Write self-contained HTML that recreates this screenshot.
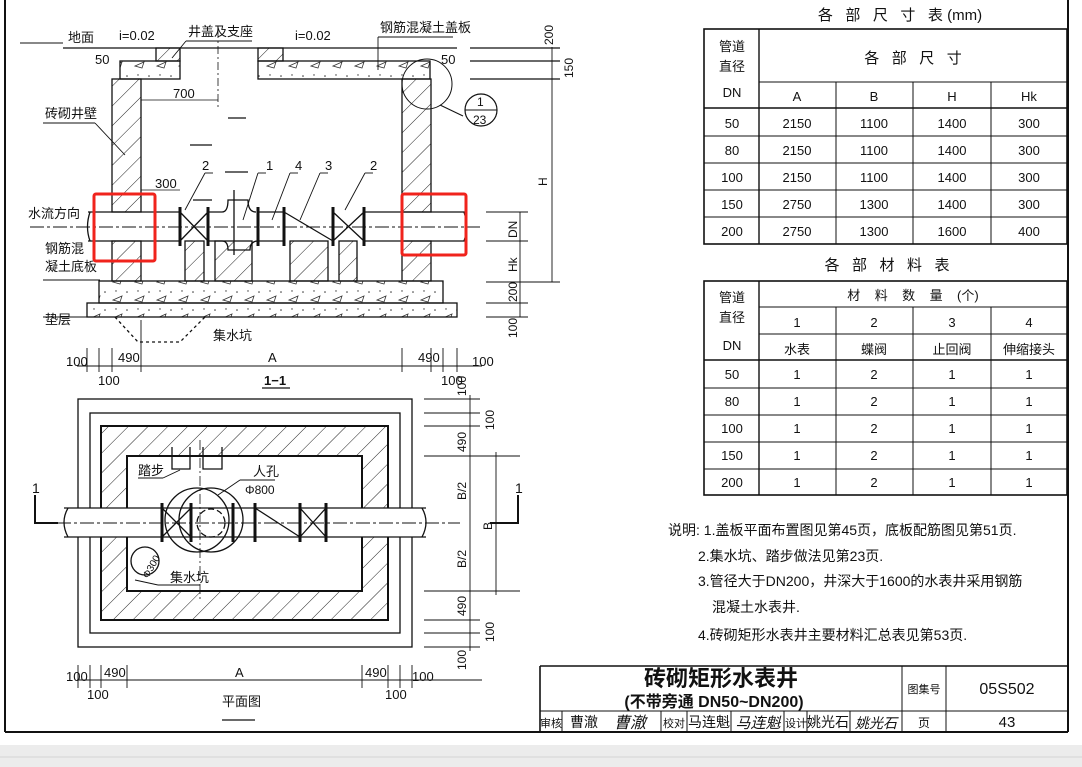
<!DOCTYPE html>
<html><head><meta charset="utf-8"><style>
body{margin:0;background:#fff}
svg{display:block}
text{font-family:"Liberation Sans","Noto Sans CJK SC",sans-serif;fill:#111}
</style></head><body>
<svg width="1082" height="767" viewBox="0 0 1082 767" xmlns="http://www.w3.org/2000/svg">
<defs>
<pattern id="h" width="14" height="14" patternUnits="userSpaceOnUse" patternTransform="rotate(45)">
<line x1="0" y1="0" x2="0" y2="14" stroke="#222" stroke-width="1"/></pattern>
<pattern id="c" width="22" height="18" patternUnits="userSpaceOnUse">
<path d="M3 12 L12 8 L10 14 Z" fill="none" stroke="#333" stroke-width="0.8"/><circle cx="17" cy="4" r="0.8" fill="#333"/><circle cx="6" cy="3" r="0.7" fill="#333"/></pattern>
</defs>
<rect width="1082" height="767" fill="#fff"/>
<rect x="0" y="745" width="1082" height="22" fill="#ececec"/>
<line x1="0" y1="757" x2="1082" y2="757" stroke="#d4d4d4"/>
<g stroke="#111" fill="none">
<line x1="5" y1="0" x2="5" y2="732" stroke-width="2"/>
<line x1="5" y1="732" x2="1068" y2="732" stroke-width="2"/>
<line x1="1068" y1="0" x2="1068" y2="732" stroke-width="2"/>
</g>

<!-- Section 1-1 -->
<g stroke="#111" stroke-width="1.3" fill="none">
<line x1="63" y1="48" x2="457" y2="48"/>
<line x1="470" y1="48" x2="560" y2="48"/><line x1="470" y1="61" x2="560" y2="61"/><line x1="470" y1="79" x2="560" y2="79"/>
<rect x="120" y="61" width="60" height="18" fill="url(#c)"/>
<rect x="258" y="61" width="172" height="18" fill="url(#c)"/>
<rect x="156" y="48" width="24" height="13" fill="url(#h)"/>
<rect x="258" y="48" width="25" height="13" fill="url(#h)"/>
<rect x="112" y="79" width="29" height="133" fill="url(#h)"/>
<rect x="112" y="241" width="29" height="40" fill="url(#h)"/>
<rect x="402" y="79" width="29" height="133" fill="url(#h)"/>
<rect x="402" y="241" width="29" height="40" fill="url(#h)"/>
<rect x="99" y="281" width="344" height="22" fill="url(#c)"/>
<rect x="87" y="303" width="370" height="14" fill="url(#c)"/>
<path d="M115 317 L138 342 L180 342 L205 317" stroke-dasharray="3 3"/>
<rect x="185" y="241" width="19" height="40" fill="url(#h)"/>
<rect x="215" y="241" width="37" height="40" fill="url(#h)"/>
<rect x="290" y="241" width="38" height="40" fill="url(#h)"/>
<rect x="339" y="241" width="18" height="40" fill="url(#h)"/>
<line x1="88" y1="212" x2="180" y2="212"/><line x1="88" y1="241" x2="180" y2="241"/>
<line x1="364" y1="212" x2="466" y2="212"/><line x1="364" y1="241" x2="466" y2="241"/>
<path d="M90 212 Q85 227 90 241 M464 212 Q469 227 464 241"/>
<path d="M180 212 L208 241 M180 241 L208 212"/>
<path d="M333 212 L364 241 M333 241 L364 212"/>
<path d="M208 212 L222 212 Q228 212 228 200 L248 200 Q248 212 256 212 M208 241 L222 241 Q228 241 228 250 L250 250 Q250 241 258 241"/>
<path d="M258 212 L284 212 M258 241 L284 241 M284 212 L333 241"/>
<g stroke-width="3"><line x1="180" y1="207" x2="180" y2="246"/><line x1="208" y1="207" x2="208" y2="246"/><line x1="258" y1="207" x2="258" y2="246"/><line x1="284" y1="207" x2="284" y2="246"/><line x1="333" y1="207" x2="333" y2="246"/><line x1="364" y1="207" x2="364" y2="246"/></g>
<line x1="234" y1="190" x2="234" y2="255"/>
<line x1="228" y1="118" x2="246" y2="118"/><line x1="190" y1="145" x2="212" y2="145"/><line x1="225" y1="172" x2="248" y2="172"/><line x1="193" y1="200" x2="212" y2="200"/>
<line x1="30" y1="227" x2="480" y2="227" stroke-dasharray="14 3 3 3" stroke-width="1"/>
<line x1="218" y1="30" x2="218" y2="108" stroke-dasharray="8 3 2 3" stroke-width="0.8"/>
<line x1="141" y1="100" x2="218" y2="100" stroke-width="0.8"/>
<line x1="141" y1="190" x2="180" y2="190" stroke-width="0.8"/>
<circle cx="427" cy="84" r="25" stroke-width="1"/>
<line x1="440" y1="105" x2="463" y2="116" stroke-width="1"/>
<circle cx="481" cy="110" r="16" stroke-width="1.2"/><line x1="465" y1="110" x2="497" y2="110" stroke-width="1"/>
<g stroke-width="0.9">
<line x1="63" y1="43" x2="20" y2="43"/>
<line x1="186" y1="41" x2="252" y2="41"/><line x1="186" y1="41" x2="172" y2="58"/>
<line x1="378" y1="37" x2="453" y2="37"/><line x1="378" y1="37" x2="378" y2="70"/>
<line x1="43" y1="123" x2="95" y2="123"/><line x1="95" y1="123" x2="125" y2="155"/>
<line x1="43" y1="280" x2="100" y2="280"/>
<line x1="43" y1="317" x2="87" y2="317"/>
<line x1="205" y1="173" x2="213" y2="173"/><line x1="205" y1="173" x2="185" y2="210"/>
<line x1="258" y1="173" x2="266" y2="173"/><line x1="258" y1="173" x2="243" y2="220"/>
<line x1="290" y1="173" x2="298" y2="173"/><line x1="290" y1="173" x2="272" y2="220"/>
<line x1="320" y1="173" x2="328" y2="173"/><line x1="320" y1="173" x2="300" y2="220"/>
<line x1="365" y1="173" x2="373" y2="173"/><line x1="365" y1="173" x2="345" y2="210"/>
<line x1="552" y1="47" x2="552" y2="282"/>
<line x1="486" y1="282" x2="560" y2="282"/>
<line x1="520" y1="212" x2="520" y2="317"/>
<line x1="486" y1="212" x2="528" y2="212"/><line x1="486" y1="241" x2="528" y2="241"/><line x1="486" y1="303" x2="528" y2="303"/><line x1="486" y1="317" x2="528" y2="317"/>
<line x1="77" y1="366" x2="482" y2="366"/>
<line x1="87" y1="348" x2="87" y2="372"/><line x1="99" y1="348" x2="99" y2="372"/><line x1="112" y1="348" x2="112" y2="372"/><line x1="141" y1="320" x2="141" y2="372"/><line x1="402" y1="348" x2="402" y2="372"/><line x1="431" y1="348" x2="431" y2="372"/><line x1="443" y1="348" x2="443" y2="372"/><line x1="457" y1="348" x2="457" y2="372"/>
<line x1="262" y1="388" x2="290" y2="388" stroke-width="1.3"/>
</g>
</g>
<g font-size="13">
<text x="68" y="42">地面</text><text x="119" y="40">i=0.02</text><text x="188" y="36">井盖及支座</text><text x="295" y="40">i=0.02</text><text x="380" y="32">钢筋混凝土盖板</text>
<text x="95" y="64">50</text><text x="441" y="64">50</text>
<text x="173" y="98">700</text><text x="155" y="188">300</text>
<text x="45" y="118">砖砌井壁</text><text x="28" y="218">水流方向</text><text x="45" y="253">钢筋混</text><text x="45" y="271">凝土底板</text><text x="45" y="324">垫层</text><text x="213" y="340">集水坑</text>
<text x="202" y="170">2</text><text x="266" y="170">1</text><text x="295" y="170">4</text><text x="325" y="170">3</text><text x="370" y="170">2</text>
<text x="477" y="106" font-size="12">1</text><text x="473" y="124" font-size="12">23</text>
<text x="66" y="366">100</text><text x="118" y="362">490</text><text x="268" y="362">A</text><text x="418" y="362">490</text><text x="472" y="366">100</text>
<text x="98" y="385">100</text><text x="441" y="385">100</text><text x="264" y="385" font-weight="bold">1−1</text>
<g font-size="12">
<text transform="translate(553,45) rotate(-90)">200</text><text transform="translate(573,78) rotate(-90)">150</text>
<text transform="translate(547,186) rotate(-90)">H</text><text transform="translate(517,238) rotate(-90)">DN</text>
<text transform="translate(517,272) rotate(-90)">Hk</text><text transform="translate(517,302) rotate(-90)">200</text><text transform="translate(517,338) rotate(-90)">100</text>
</g></g>

<!-- Plan -->
<g stroke="#111" stroke-width="1.3" fill="none">
<rect x="78" y="399" width="334" height="248"/>
<rect x="90" y="413" width="310" height="220"/>
<path d="M101 426 H388 V620 H101 Z M127 456 V591 H362 V456 Z" fill="url(#h)" fill-rule="evenodd" stroke-width="2"/>
<rect x="64" y="508" width="362" height="29" fill="#fff" stroke="none"/>
<line x1="64" y1="508" x2="426" y2="508"/><line x1="64" y1="537" x2="426" y2="537"/>
<path d="M68 508 Q60 522 68 537 M422 508 Q430 522 422 537"/>
<line x1="34" y1="523" x2="460" y2="523" stroke-dasharray="14 3 3 3" stroke-width="1"/>
<circle cx="197" cy="520" r="32"/><circle cx="211" cy="520" r="32"/>
<circle cx="211" cy="523" r="14" stroke-dasharray="6 3"/>
<line x1="200" y1="440" x2="200" y2="600" stroke-width="0.8" stroke-dasharray="10 3 2 3"/>
<path d="M162 508 L191 537 M162 537 L191 508 M255 508 L300 537 M300 508 L326 537 M300 537 L326 508"/>
<g stroke-width="3"><line x1="162" y1="503" x2="162" y2="542"/><line x1="191" y1="503" x2="191" y2="542"/><line x1="233" y1="503" x2="233" y2="542"/><line x1="255" y1="503" x2="255" y2="542"/><line x1="300" y1="503" x2="300" y2="542"/><line x1="326" y1="503" x2="326" y2="542"/></g>
<path d="M172 447 V469 H190 V447 M203 447 V469 H222 V447"/>
<circle cx="145" cy="561" r="14"/>
<path d="M35 495 V523 H58 M518 495 V523 H490" stroke-width="2"/>
<g stroke-width="0.9">
<line x1="138" y1="478" x2="163" y2="478"/><line x1="163" y1="478" x2="180" y2="470"/>
<line x1="240" y1="480" x2="275" y2="480"/><line x1="240" y1="480" x2="218" y2="495"/>
<line x1="158" y1="585" x2="200" y2="585"/><line x1="158" y1="585" x2="135" y2="580"/>
<line x1="424" y1="399" x2="480" y2="399"/><line x1="424" y1="413" x2="480" y2="413"/><line x1="424" y1="426" x2="480" y2="426"/><line x1="424" y1="456" x2="520" y2="456"/><line x1="424" y1="591" x2="520" y2="591"/><line x1="424" y1="620" x2="480" y2="620"/><line x1="424" y1="633" x2="480" y2="633"/><line x1="424" y1="647" x2="480" y2="647"/>
<line x1="470" y1="395" x2="470" y2="651"/><line x1="496" y1="452" x2="496" y2="595"/>
<line x1="77" y1="680" x2="482" y2="680"/>
<line x1="78" y1="665" x2="78" y2="688"/><line x1="90" y1="665" x2="90" y2="688"/><line x1="101" y1="665" x2="101" y2="688"/><line x1="127" y1="665" x2="127" y2="688"/><line x1="362" y1="665" x2="362" y2="688"/><line x1="388" y1="665" x2="388" y2="688"/><line x1="400" y1="665" x2="400" y2="688"/><line x1="412" y1="665" x2="412" y2="688"/>
<line x1="222" y1="720" x2="255" y2="720" stroke-width="1.3"/>
</g></g>
<g font-size="13">
<text x="32" y="493" font-size="14">1</text><text x="515" y="493" font-size="14">1</text>
<text x="138" y="475">踏步</text><text x="253" y="476">人孔</text><text x="245" y="494" font-size="12">Φ800</text><text x="170" y="582">集水坑</text>
<text transform="translate(148,579) rotate(-60)" font-size="10">Φ300</text>
<text x="66" y="681">100</text><text x="104" y="677">490</text><text x="235" y="677">A</text><text x="365" y="677">490</text><text x="412" y="681">100</text>
<text x="87" y="699">100</text><text x="385" y="699">100</text><text x="222" y="706">平面图</text>
<g font-size="12">
<text transform="translate(466,396) rotate(-90)">100</text><text transform="translate(494,430) rotate(-90)">100</text><text transform="translate(466,452) rotate(-90)">490</text>
<text transform="translate(466,500) rotate(-90)">B/2</text><text transform="translate(492,530) rotate(-90)">B</text><text transform="translate(466,568) rotate(-90)">B/2</text>
<text transform="translate(466,616) rotate(-90)">490</text><text transform="translate(494,642) rotate(-90)">100</text><text transform="translate(466,670) rotate(-90)">100</text>
</g></g>

<!-- Tables -->
<g stroke="#111" fill="none">
<rect x="704" y="29" width="363" height="215" stroke-width="1.6"/>
<line x1="759" y1="29" x2="759" y2="244" stroke-width="1.4"/>
<line x1="759" y1="82" x2="1067" y2="82"/><line x1="704" y1="108" x2="1067" y2="108" stroke-width="1.4"/>
<line x1="836" y1="82" x2="836" y2="244"/><line x1="913" y1="82" x2="913" y2="244"/><line x1="991" y1="82" x2="991" y2="244"/>
<line x1="704" y1="136" x2="1067" y2="136"/><line x1="704" y1="163" x2="1067" y2="163"/><line x1="704" y1="190" x2="1067" y2="190"/><line x1="704" y1="217" x2="1067" y2="217"/>
<rect x="704" y="281" width="363" height="214" stroke-width="1.6"/>
<line x1="759" y1="281" x2="759" y2="495" stroke-width="1.4"/>
<line x1="759" y1="307" x2="1067" y2="307"/><line x1="759" y1="334" x2="1067" y2="334"/><line x1="704" y1="360" x2="1067" y2="360" stroke-width="1.4"/>
<line x1="836" y1="307" x2="836" y2="495"/><line x1="913" y1="307" x2="913" y2="495"/><line x1="991" y1="307" x2="991" y2="495"/>
<line x1="704" y1="388" x2="1067" y2="388"/><line x1="704" y1="415" x2="1067" y2="415"/><line x1="704" y1="442" x2="1067" y2="442"/><line x1="704" y1="469" x2="1067" y2="469"/>
</g>
<g font-size="13" text-anchor="middle">
<text x="900" y="20" font-size="15" xml:space="preserve">各   部   尺   寸   表 (mm)</text>
<text x="732" y="51">管道</text><text x="732" y="71">直径</text><text x="732" y="97">DN</text>
<text x="913" y="63" font-size="15" xml:space="preserve">各   部   尺   寸</text>
<text x="797" y="101">A</text><text x="874" y="101">B</text><text x="952" y="101">H</text><text x="1029" y="101">Hk</text>
<text x="732" y="128">50</text><text x="797" y="128">2150</text><text x="874" y="128">1100</text><text x="952" y="128">1400</text><text x="1029" y="128">300</text>
<text x="732" y="155">80</text><text x="797" y="155">2150</text><text x="874" y="155">1100</text><text x="952" y="155">1400</text><text x="1029" y="155">300</text>
<text x="732" y="182">100</text><text x="797" y="182">2150</text><text x="874" y="182">1100</text><text x="952" y="182">1400</text><text x="1029" y="182">300</text>
<text x="732" y="209">150</text><text x="797" y="209">2750</text><text x="874" y="209">1300</text><text x="952" y="209">1400</text><text x="1029" y="209">300</text>
<text x="732" y="236">200</text><text x="797" y="236">2750</text><text x="874" y="236">1300</text><text x="952" y="236">1600</text><text x="1029" y="236">400</text>
<text x="887" y="270" font-size="15" xml:space="preserve">各   部   材   料   表</text>
<text x="732" y="302">管道</text><text x="732" y="322">直径</text><text x="732" y="350">DN</text>
<text x="913" y="300" xml:space="preserve">材    料    数    量    (个)</text>
<text x="797" y="327">1</text><text x="874" y="327">2</text><text x="952" y="327">3</text><text x="1029" y="327">4</text>
<text x="797" y="354">水表</text><text x="874" y="354">蝶阀</text><text x="952" y="354">止回阀</text><text x="1029" y="354">伸缩接头</text>
<text x="732" y="379">50</text><text x="797" y="379">1</text><text x="874" y="379">2</text><text x="952" y="379">1</text><text x="1029" y="379">1</text>
<text x="732" y="406">80</text><text x="797" y="406">1</text><text x="874" y="406">2</text><text x="952" y="406">1</text><text x="1029" y="406">1</text>
<text x="732" y="433">100</text><text x="797" y="433">1</text><text x="874" y="433">2</text><text x="952" y="433">1</text><text x="1029" y="433">1</text>
<text x="732" y="460">150</text><text x="797" y="460">1</text><text x="874" y="460">2</text><text x="952" y="460">1</text><text x="1029" y="460">1</text>
<text x="732" y="487">200</text><text x="797" y="487">1</text><text x="874" y="487">2</text><text x="952" y="487">1</text><text x="1029" y="487">1</text>
</g>

<!-- Notes -->
<g font-size="14">
<text x="668" y="535">说明: 1.盖板平面布置图见第45页，底板配筋图见第51页.</text>
<text x="698" y="561">2.集水坑、踏步做法见第23页.</text>
<text x="698" y="586">3.管径大于DN200，井深大于1600的水表井采用钢筋</text>
<text x="712" y="612">混凝土水表井.</text>
<text x="698" y="640">4.砖砌矩形水表井主要材料汇总表见第53页.</text>
</g>

<!-- Title block -->
<g stroke="#111" fill="none">
<line x1="540" y1="666" x2="1068" y2="666" stroke-width="1.6"/>
<line x1="540" y1="666" x2="540" y2="732" stroke-width="1.6"/>
<line x1="540" y1="711" x2="1068" y2="711"/>
<line x1="902" y1="666" x2="902" y2="732"/><line x1="946" y1="666" x2="946" y2="732"/>
<line x1="562" y1="711" x2="562" y2="732"/><line x1="661" y1="711" x2="661" y2="732"/><line x1="687" y1="711" x2="687" y2="732"/><line x1="731" y1="711" x2="731" y2="732"/><line x1="784" y1="711" x2="784" y2="732"/><line x1="807" y1="711" x2="807" y2="732"/><line x1="850" y1="711" x2="850" y2="732"/>
</g>
<g text-anchor="middle">
<text x="721" y="686" font-size="22" font-weight="bold">砖砌矩形水表井</text>
<text x="714" y="707" font-size="16" font-weight="bold">(不带旁通 DN50~DN200)</text>
<text x="924" y="693" font-size="11">图集号</text><text x="1007" y="694" font-size="16">05S502</text>
<text x="924" y="727" font-size="12">页</text><text x="1007" y="727" font-size="15">43</text>
<text x="551" y="727" font-size="11">审核</text><text x="584" y="727" font-size="14">曹澈</text><text x="630" y="728" font-size="16" font-style="italic">曹澈</text>
<text x="674" y="727" font-size="11">校对</text><text x="709" y="727" font-size="14">马连魁</text><text x="758" y="728" font-size="15" font-style="italic">马连魁</text>
<text x="796" y="727" font-size="11">设计</text><text x="828" y="727" font-size="14">姚光石</text><text x="876" y="728" font-size="14" font-style="italic">姚光石</text>
</g>

<!-- red highlight boxes -->
<g fill="none" stroke="#f0231c" stroke-width="3">
<rect x="94" y="194" width="61" height="67" rx="2"/>
<rect x="402" y="194" width="64" height="61" rx="2"/>
</g>
</svg>
</body></html>
